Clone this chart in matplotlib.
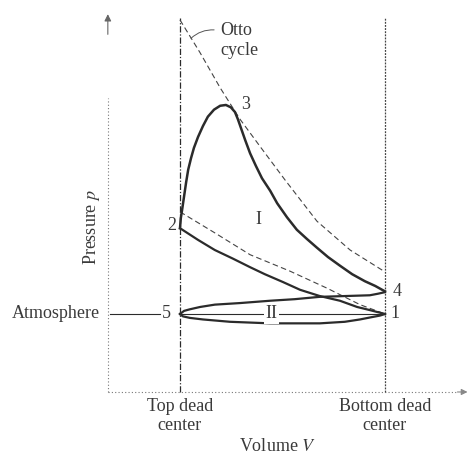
import matplotlib
matplotlib.use("Agg")
import matplotlib.pyplot as plt

plt.rcParams["font.family"] = ["Liberation Serif", "DejaVu Serif"]
plt.rcParams["mathtext.fontset"] = "stix"

# Volume: TDC = 1, BDC = 6 ; pressure: atmosphere = 1
V_TDC = 1.0
V_BDC = 6.0
P_ATM = 1.0

# Otto cycle (dashed)
otto_exp_v = [1.00, 1.49, 1.98, 2.46, 2.95, 3.56, 4.34, 5.15, 6.00]
otto_exp_p = [4.77, 4.35, 3.90, 3.50, 3.15, 2.72, 2.19, 1.82, 1.54]
otto_comp_v = [1.00, 1.85, 2.71, 3.68, 4.59, 5.39, 6.00]
otto_comp_p = [2.31, 2.04, 1.76, 1.55, 1.33, 1.12, 1.00]

# Loop I : compression 1 -> 2
comp_v = [6.00, 5.63, 5.32, 4.90, 4.41, 3.93, 3.51, 3.07, 2.71, 2.29, 1.85, 1.44, 1.00]
comp_p = [1.00, 1.05, 1.09, 1.17, 1.23, 1.31, 1.41, 1.51, 1.60, 1.71, 1.82, 1.95, 2.10]

# Loop I : combustion and expansion 2 -> 3 -> 4
exp_v = [1.00, 1.02, 1.05, 1.10, 1.15, 1.20, 1.27, 1.34, 1.44, 1.56, 1.68, 1.83,
         1.98, 2.12, 2.24, 2.34, 2.41, 2.49, 2.59, 2.71, 2.85, 3.00, 3.20, 3.37,
         3.61, 3.85, 4.10, 4.34, 4.61, 4.90, 5.20, 5.51, 5.76, 6.00]
exp_p = [2.10, 2.23, 2.33, 2.51, 2.69, 2.85, 3.00, 3.13, 3.27, 3.41, 3.53, 3.62,
         3.67, 3.68, 3.65, 3.59, 3.50, 3.38, 3.23, 3.06, 2.90, 2.74, 2.58, 2.42,
         2.24, 2.08, 1.96, 1.85, 1.73, 1.62, 1.51, 1.42, 1.36, 1.29]

# Loop II : exhaust 4 -> 5 and intake 5 -> 1
exh_v = [6.00, 5.83, 5.63, 5.02, 4.41, 3.80, 3.20, 2.46, 1.85, 1.49, 1.24, 1.10, 1.00]
exh_p = [1.28, 1.26, 1.24, 1.23, 1.22, 1.19, 1.17, 1.14, 1.12, 1.09, 1.06, 1.04, 1.00]
int_v = [1.00, 1.07, 1.24, 1.56, 2.22, 3.20, 3.93, 4.41, 5.02, 5.39, 5.68, 5.88, 6.00]
int_p = [1.00, 0.97, 0.95, 0.93, 0.90, 0.88, 0.88, 0.88, 0.90, 0.93, 0.96, 0.98, 1.00]

ink = "#2b2b2b"
txt = "#3a3a3a"

fig = plt.figure(figsize=(4.72, 4.55), dpi=100)
ax = fig.add_axes([0, 0, 1, 1])
ax.set_xlim(-3.390, 8.122)
ax.set_ylim(-0.808, 5.026)
ax.set_axis_off()

# axes (dotted, faded scan)
ax.plot([-0.76, -0.76], [0, 3.77], color="#777777", lw=0.8, ls=(0, (1, 2)))
ax.plot([-0.76, 7.72], [0, 0], color="#777777", lw=0.8, ls=(0, (1, 2)))
ax.annotate("", xy=(-0.76, 4.88), xytext=(-0.76, 4.55),
            arrowprops=dict(arrowstyle="-|>", color="#666666", lw=0.8,
                            mutation_scale=10))
ax.annotate("", xy=(8.08, 0), xytext=(7.70, 0),
            arrowprops=dict(arrowstyle="-|>", color="#888888", lw=0.8,
                            mutation_scale=9))

# dead center lines
ax.plot([V_TDC, V_TDC], [0, 4.79], color=ink, lw=0.9, ls=(0, (5, 1.5, 1, 1.5)))
ax.plot([V_BDC, V_BDC], [0, 4.79], color="#444444", lw=0.9, ls=(0, (1.5, 1)))

# Otto cycle
ax.plot(otto_exp_v, otto_exp_p, color="#444444", lw=0.8, ls=(0, (5, 3)))
ax.plot(otto_comp_v, otto_comp_p, color="#444444", lw=0.8, ls=(0, (5, 3)))

# actual diagram
ax.plot(comp_v, comp_p, color=ink, lw=1.6, solid_joinstyle="round")
ax.plot(exp_v, exp_p, color=ink, lw=1.8, solid_joinstyle="round")
ax.plot(exh_v, exh_p, color=ink, lw=1.6, solid_joinstyle="round")
ax.plot(int_v, int_p, color=ink, lw=1.6, solid_joinstyle="round")

# atmosphere line
ax.plot([V_TDC, V_BDC], [P_ATM, P_ATM], color=ink, lw=0.8)
ax.plot([-0.71, 0.51], [P_ATM, P_ATM], color=ink, lw=0.8)

fs = 13
ax.text(-0.95, P_ATM, "Atmosphere", ha="right", va="center", fontsize=fs, color=txt)
ax.text(0.68, P_ATM, "5", ha="center", va="center", fontsize=fs, color=txt)
ax.text(0.80, 2.14, "2", ha="center", va="center", fontsize=fs, color=txt)
ax.text(2.61, 3.69, "3", ha="center", va="center", fontsize=fs, color=txt)
ax.text(6.29, 1.29, "4", ha="center", va="center", fontsize=fs, color=txt)
ax.text(6.24, 1.01, "1", ha="center", va="center", fontsize=fs, color=txt)
ax.text(2.90, 2.21, "I", ha="center", va="center", fontsize=fs, color=txt)
ax.text(3.24, P_ATM, "II", ha="center", va="center", fontsize=fs, color=txt,
        bbox=dict(facecolor="white", edgecolor="none", pad=1))

ax.text(1.98, 4.51, "Otto\ncycle", ha="left", va="center", fontsize=fs,
        color=txt, linespacing=1.2)
ax.annotate("", xy=(1.22, 4.51), xytext=(1.90, 4.64),
            arrowprops=dict(arrowstyle="-", color="#555555", lw=0.7,
                            connectionstyle="arc3,rad=0.25"))

ax.text(V_TDC, -0.08, "Top dead\ncenter", ha="center", va="top", fontsize=fs,
        color=txt, linespacing=1.1)
ax.text(V_BDC, -0.08, "Bottom dead\ncenter", ha="center", va="top", fontsize=fs,
        color=txt, linespacing=1.1)
ax.text(3.37, -0.705, "Volume $V$", ha="center", va="center", fontsize=fs, color=txt)
ax.text(-1.15, 2.12, "Pressure $p$", ha="center", va="center", rotation=90,
        fontsize=fs, color=txt)

fig.savefig("out.png", dpi=100)
plt.close(fig)
